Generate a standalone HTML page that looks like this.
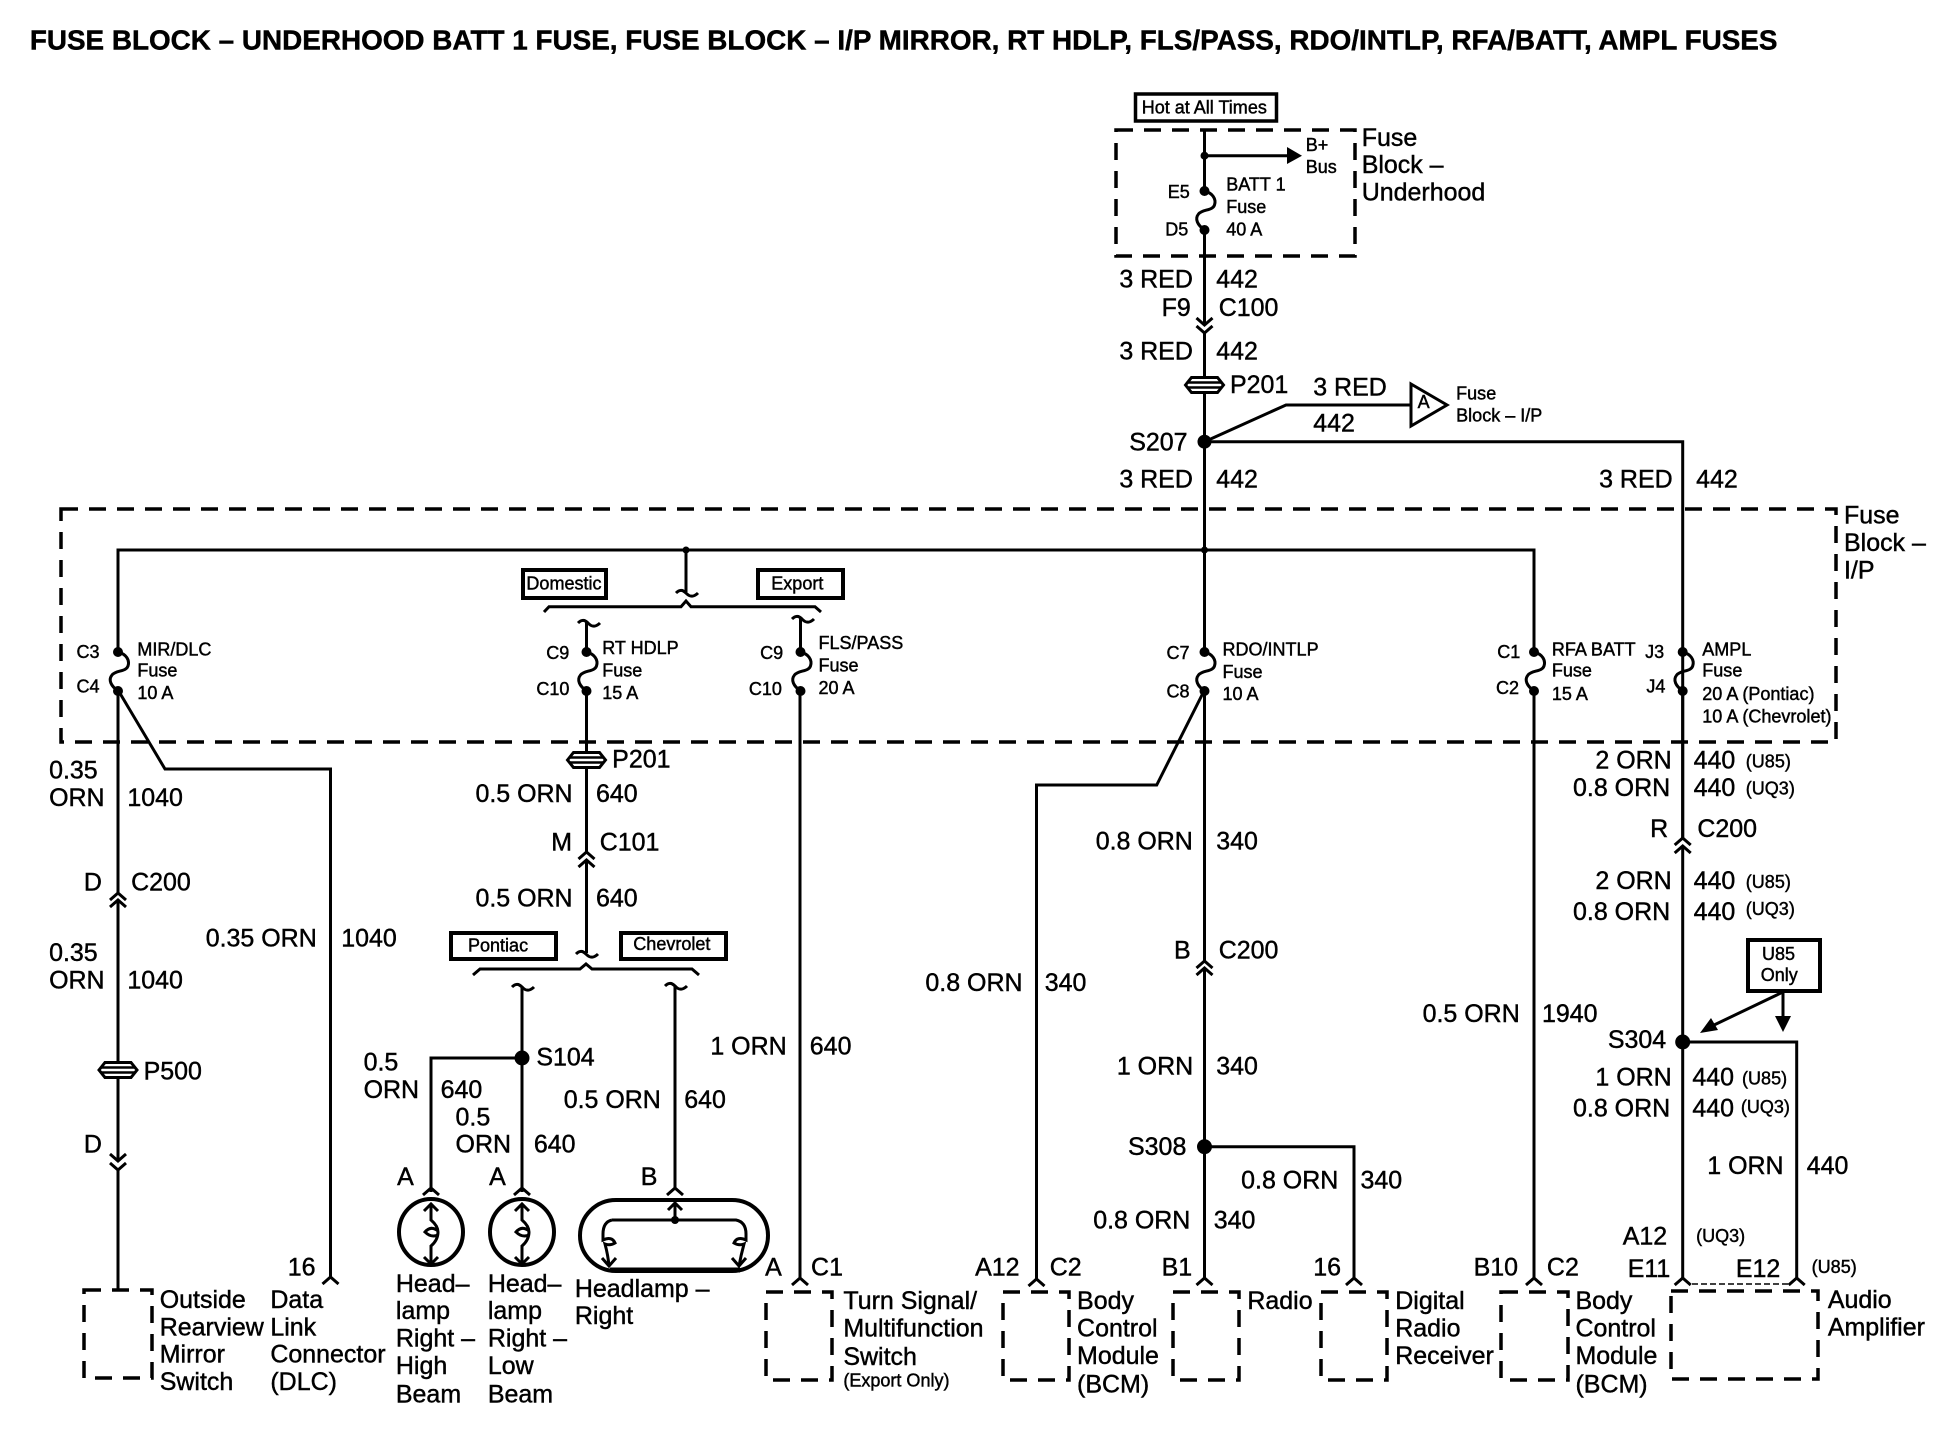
<!DOCTYPE html>
<html><head><meta charset="utf-8"><title>Fuse Block Diagram</title>
<style>
html,body{margin:0;padding:0;background:#fff}
svg{display:block}
.w{fill:none;stroke:#000;stroke-width:3}
.d{fill:none;stroke:#000;stroke-width:3.5;stroke-dasharray:17 11}
.b{fill:#fff;stroke:#000;stroke-width:4}
text{font-family:"Liberation Sans",sans-serif;fill:#000;stroke:#000;stroke-width:.35}
.l text,text.l{font-size:20.1px}
.s text,text.s{font-size:14.5px}
</style></head><body>
<svg xmlns="http://www.w3.org/2000/svg" width="1948" height="1440" viewBox="0 0 1948 1440">
<defs>
<g id="fuse"><path d="M0,0c8,2 12,8 10,14c-2,6 -12,4 -16,9c-4,5 -1,11 6,16" fill="none" stroke="#000" stroke-width="3"/><circle cx="0" cy="0" r="5"/><circle cx="0" cy="39" r="5"/></g>
<path id="cu" d="M-8,7L0,0L8,7" fill="none" stroke="#000" stroke-width="3"/>
<path id="cd" d="M-8,-7L0,0L8,-7" fill="none" stroke="#000" stroke-width="3"/>
<g id="pc"><path d="M-19,0L-13,-7.5H13L19,0L13,7.5H-13Z" fill="#fff" stroke="#000" stroke-width="3"/><path d="M-17,-2.5H17M-17,2.5H17" stroke="#000" stroke-width="2.5"/></g>
<path id="tl" d="M-10,1c5,-5 8,-2 11,1c3,3 7,3 11,-1" fill="none" stroke="#000" stroke-width="3"/>
<g id="lamp"><path d="M0,1205V1220Q7,1226 7,1232Q7,1240 0,1246V1262" fill="none" stroke="#000" stroke-width="3"/><path d="M7,1231Q0,1225 -6,1232Q0,1238 7,1235" fill="none" stroke="#000" stroke-width="3"/><path d="M-7,1211L0,1204L7,1211M-7,1257L0,1264L7,1257" fill="none" stroke="#000" stroke-width="3"/></g>
</defs>
<rect width="1948" height="1440" fill="#fff"/>

<!-- dashed boxes -->
<rect class="d" x="1116" y="130" width="239" height="126"/>
<rect class="d" x="61" y="509" width="1775" height="233"/>
<rect class="d" x="84" y="1290" width="68" height="88"/>
<rect class="d" x="766" y="1292" width="66" height="88"/>
<rect class="d" x="1003" y="1292" width="66" height="88"/>
<rect class="d" x="1173" y="1292" width="66" height="88"/>
<rect class="d" x="1321" y="1292" width="66" height="88"/>
<rect class="d" x="1501" y="1292" width="67" height="88"/>
<rect class="d" x="1671" y="1291" width="147" height="88"/>

<!-- label boxes -->
<rect x="1135.5" y="94" width="141" height="27" fill="#fff" stroke="#000" stroke-width="3.5"/>
<rect class="b" x="523" y="570" width="83" height="28"/>
<rect class="b" x="758" y="570" width="85" height="28"/>
<rect class="b" x="451" y="933" width="105" height="26"/>
<rect class="b" x="621" y="933" width="105" height="26"/>
<rect class="b" x="1748" y="940" width="72" height="51"/>

<!-- main feed -->
<path class="w" d="M1204.5,130V191M1204.5,230V325M1204.5,333V441.7"/>
<circle cx="1204.5" cy="155.7" r="4"/>
<path class="w" d="M1204.5,155.7H1290"/>
<path d="M1287,147L1302,155.7L1287,164Z"/>
<use href="#fuse" x="1204.5" y="191"/>
<use href="#cd" x="1204.5" y="325"/>
<use href="#cd" x="1204.5" y="333"/>
<use href="#pc" x="1204.5" y="385"/>
<circle cx="1204.5" cy="441.7" r="7"/>
<path class="w" d="M1204.5,441.7L1286,405H1410"/>
<path d="M1411,384L1447,405L1411,426Z" fill="#fff" stroke="#000" stroke-width="3"/>
<path class="w" d="M1204.5,441.7H1682.7V838M1682.7,846V1278"/>
<path class="w" d="M1204.5,441.7V652"/>

<!-- bus -->
<path class="w" d="M118,652V550H1534V652"/>
<circle cx="1204.5" cy="550" r="3.5"/>
<circle cx="686" cy="550" r="3.5"/>
<path class="w" d="M686,550V592"/>
<use href="#tl" x="686" y="592"/>
<path class="w" d="M544,612L549,606.7H681L686,601L691,606.7H815L821,612"/>

<!-- fuses -->
<use href="#fuse" x="118" y="652"/>
<use href="#fuse" x="586.5" y="652"/>
<use href="#fuse" x="800.5" y="652"/>
<use href="#fuse" x="1204.5" y="652"/>
<use href="#fuse" x="1534" y="652"/>
<use href="#fuse" x="1682.7" y="652"/>

<!-- left MIR -->
<path class="w" d="M118,690V893M118,900V1161M118,1170V1290"/>
<use href="#cu" x="118" y="893"/><use href="#cu" x="118" y="900"/>
<use href="#pc" x="118" y="1070"/>
<use href="#cd" x="118" y="1161"/><use href="#cd" x="118" y="1170"/>
<path class="w" d="M118,690L165,769H330.5V1278"/>
<use href="#cu" x="330.5" y="1277"/>

<!-- RT HDLP -->
<path class="w" d="M586.5,622V652M586.5,690V852M586.5,860V953"/>
<use href="#tl" x="588" y="622"/>
<use href="#pc" x="586.5" y="760"/>
<use href="#cu" x="586.5" y="852"/><use href="#cu" x="586.5" y="860"/>
<use href="#tl" x="586" y="953"/>
<path class="w" d="M473,975L480,969H580L586,964L592,969H692L699,975"/>
<use href="#tl" x="522" y="986"/>
<use href="#tl" x="675" y="985"/>
<path class="w" d="M522,986V1192M431,1192V1058H522"/>
<circle cx="522" cy="1058" r="7.5"/>
<path class="w" d="M675,985V1190"/>
<use href="#cu" x="431" y="1188"/><use href="#cu" x="522" y="1188"/><use href="#cu" x="675" y="1188"/>
<ellipse cx="431" cy="1232" rx="32" ry="33" fill="none" stroke="#000" stroke-width="4"/>
<ellipse cx="522" cy="1232" rx="32" ry="33" fill="none" stroke="#000" stroke-width="4"/>
<use href="#lamp" x="431" y="0"/>
<use href="#lamp" x="522" y="0"/>
<rect x="580" y="1200" width="188" height="71" rx="36" ry="36" fill="none" stroke="#000" stroke-width="4"/>
<path d="M610,1270H740" stroke="#000" stroke-width="5"/>
<path class="w" d="M675,1205V1220M612,1220H736Q746,1222 746,1234V1240Q737,1236 734,1243Q739,1246 744,1244Q741,1255 739,1266M612,1220Q603,1222 603,1234V1240Q612,1236 615,1243Q610,1246 605,1244Q608,1255 609,1266"/>
<path class="w" d="M668,1210L675,1203L682,1210M602,1258L609,1266L616,1258M732,1258L739,1266L746,1258"/>
<circle cx="675" cy="1220" r="4"/>

<!-- FLS -->
<use href="#tl" x="802" y="618"/>
<path class="w" d="M800.5,618V652M800,690V1278"/>
<use href="#cu" x="800" y="1278"/>

<!-- RDO -->
<path class="w" d="M1204.5,690V961M1204.5,968V1278"/>
<use href="#cu" x="1204.5" y="961"/><use href="#cu" x="1204.5" y="968"/>
<path class="w" d="M1204.5,690L1156.7,785H1036.5V1279"/>
<use href="#cu" x="1036.5" y="1279"/><use href="#cu" x="1204.5" y="1278"/>
<circle cx="1204.5" cy="1146.7" r="7.5"/>
<path class="w" d="M1204.5,1146.7H1354V1278"/>
<use href="#cu" x="1354" y="1278"/>

<!-- RFA -->
<path class="w" d="M1534,690V1278"/>
<use href="#cu" x="1534" y="1278"/>

<!-- AMPL -->
<path class="w" d="M1682.7,690V838"/>
<use href="#cu" x="1682.7" y="838"/><use href="#cu" x="1682.7" y="846"/>
<circle cx="1682.7" cy="1042" r="7.5"/>
<path class="w" d="M1682.7,1042H1796.7V1278"/>
<use href="#cu" x="1682.7" y="1278"/><use href="#cu" x="1796.7" y="1278"/>
<path d="M1692,1284H1788" fill="none" stroke="#000" stroke-width="1.5" stroke-dasharray="6 3"/>
<path class="w" d="M1783,992V1018M1783,992L1712,1026"/>
<path d="M1775,1016H1791L1783,1032Z"/>
<path d="M1700,1033L1711,1018L1718,1030Z"/>

<g transform="scale(1.243)">
<text x="24" y="40" font-size="22" font-weight="bold" textLength="1406" lengthAdjust="spacingAndGlyphs">FUSE BLOCK – UNDERHOOD BATT 1 FUSE, FUSE BLOCK – I/P MIRROR, RT HDLP, FLS/PASS, RDO/INTLP, RFA/BATT, AMPL FUSES</text>

<g transform="translate(-0.5,-0.7)">
<g class="l">
<text x="1096" y="118">Fuse</text><text x="1096" y="140">Block –</text><text x="1096" y="162">Underhood</text>
<text x="901" y="232">3 RED</text><text x="979" y="232">442</text>
<text x="935" y="255">F9</text><text x="981" y="255">C100</text>
<text x="901" y="290">3 RED</text><text x="979" y="290">442</text>
<text x="990" y="317">P201</text>
<text x="1057" y="319">3 RED</text><text x="1057" y="348">442</text>
<text x="909" y="363">S207</text>
<text x="901" y="393">3 RED</text><text x="979" y="393">442</text>
<text x="1287" y="393">3 RED</text><text x="1365" y="393">442</text>
<text x="1484" y="422">Fuse</text><text x="1484" y="444">Block –</text><text x="1484" y="466">I/P</text>

<text x="40" y="627">0.35</text><text x="40" y="649">ORN</text><text x="103" y="649">1040</text>
<text x="68" y="717">D</text><text x="106" y="717">C200</text>
<text x="40" y="774">0.35</text><text x="40" y="796">ORN</text><text x="103" y="796">1040</text>
<text x="116" y="869">P500</text><text x="68" y="928">D</text>
<text x="166" y="762">0.35 ORN</text><text x="275" y="762">1040</text>

<text x="493" y="618">P201</text>
<text x="383" y="646">0.5 ORN</text><text x="480" y="646">640</text>
<text x="444" y="685">M</text><text x="483" y="685">C101</text>
<text x="383" y="730">0.5 ORN</text><text x="480" y="730">640</text>
<text x="432" y="858">S104</text>
<text x="293" y="862">0.5</text><text x="293" y="884">ORN</text><text x="355" y="884">640</text>
<text x="367" y="906">0.5</text><text x="367" y="928">ORN</text><text x="430" y="928">640</text>
<text x="454" y="892">0.5 ORN</text><text x="551" y="892">640</text>
<text x="320" y="954">A</text><text x="394" y="954">A</text><text x="516" y="954">B</text>

<text x="572" y="849">1 ORN</text><text x="652" y="849">640</text>
<text x="616" y="1027">A</text><text x="653" y="1027">C1</text>
<text x="745" y="798">0.8 ORN</text><text x="841" y="798">340</text>
<text x="785" y="1027">A12</text><text x="845" y="1027">C2</text>

<text x="882" y="684">0.8 ORN</text><text x="979" y="684">340</text>
<text x="945" y="772">B</text><text x="981" y="772">C200</text>
<text x="899" y="865">1 ORN</text><text x="979" y="865">340</text>
<text x="908" y="930">S308</text>
<text x="999" y="957">0.8 ORN</text><text x="1095" y="957">340</text>
<text x="880" y="989">0.8 ORN</text><text x="977" y="989">340</text>
<text x="935" y="1027">B1</text><text x="1057" y="1027">16</text>

<text x="1145" y="823">0.5 ORN</text><text x="1241" y="823">1940</text>
<text x="1186" y="1027">B10</text><text x="1245" y="1027">C2</text>

<text x="1284" y="619">2 ORN</text><text x="1363" y="619">440</text>
<text x="1266" y="641">0.8 ORN</text><text x="1363" y="641">440</text>
<text x="1328" y="674">R</text><text x="1366" y="674">C200</text>
<text x="1284" y="716">2 ORN</text><text x="1363" y="716">440</text>
<text x="1266" y="741">0.8 ORN</text><text x="1363" y="741">440</text>
<text x="1294" y="844">S304</text>
<text x="1284" y="874">1 ORN</text><text x="1362" y="874">440</text>
<text x="1266" y="899">0.8 ORN</text><text x="1362" y="899">440</text>
<text x="1374" y="945">1 ORN</text><text x="1454" y="945">440</text>
<text x="1306" y="1002">A12</text>
<text x="1310" y="1028">E11</text><text x="1397" y="1028">E12</text>

<text x="129" y="1053">Outside</text><text x="129" y="1075">Rearview</text><text x="129" y="1097">Mirror</text><text x="129" y="1119">Switch</text>
<text x="232" y="1027">16</text>
<text x="218" y="1053">Data</text><text x="218" y="1075">Link</text><text x="218" y="1097">Connector</text><text x="218" y="1119">(DLC)</text>
<text x="319" y="1040">Head–</text><text x="319" y="1062">lamp</text><text x="319" y="1084">Right –</text><text x="319" y="1106">High</text><text x="319" y="1129">Beam</text>
<text x="393" y="1040">Head–</text><text x="393" y="1062">lamp</text><text x="393" y="1084">Right –</text><text x="393" y="1106">Low</text><text x="393" y="1129">Beam</text>
<text x="463" y="1044">Headlamp –</text><text x="463" y="1066">Right</text>
<text x="679" y="1054">Turn Signal/</text><text x="679" y="1076">Multifunction</text><text x="679" y="1099">Switch</text>
<text x="867" y="1054">Body</text><text x="867" y="1076">Control</text><text x="867" y="1098">Module</text><text x="867" y="1121">(BCM)</text>
<text x="1004" y="1054">Radio</text>
<text x="1123" y="1054">Digital</text><text x="1123" y="1076">Radio</text><text x="1123" y="1098">Receiver</text>
<text x="1268" y="1054">Body</text><text x="1268" y="1076">Control</text><text x="1268" y="1098">Module</text><text x="1268" y="1121">(BCM)</text>
<text x="1471" y="1053">Audio</text><text x="1471" y="1075">Amplifier</text>
</g>

<g class="s">
<text x="919" y="92">Hot at All Times</text>
<text x="1051" y="122">B+</text><text x="1051" y="140">Bus</text>
<text x="940" y="160">E5</text><text x="938" y="190">D5</text>
<text x="987" y="154">BATT 1</text><text x="987" y="172">Fuse</text><text x="987" y="190">40 A</text>
<text x="1172" y="322">Fuse</text><text x="1172" y="340">Block – I/P</text>
<text x="1141" y="329">A</text>
<text x="424" y="475">Domestic</text><text x="621" y="475">Export</text>
<text x="62" y="530">C3</text><text x="62" y="558">C4</text>
<text x="111" y="528">MIR/DLC</text><text x="111" y="545">Fuse</text><text x="111" y="563">10 A</text>
<text x="440" y="531">C9</text><text x="432" y="560">C10</text>
<text x="485" y="527">RT HDLP</text><text x="485" y="545">Fuse</text><text x="485" y="563">15 A</text>
<text x="612" y="531">C9</text><text x="603" y="560">C10</text>
<text x="659" y="523">FLS/PASS</text><text x="659" y="541">Fuse</text><text x="659" y="559">20 A</text>
<text x="939" y="531">C7</text><text x="939" y="562">C8</text>
<text x="984" y="528">RDO/INTLP</text><text x="984" y="546">Fuse</text><text x="984" y="564">10 A</text>
<text x="1205" y="530">C1</text><text x="1204" y="559">C2</text>
<text x="1249" y="528">RFA BATT</text><text x="1249" y="545">Fuse</text><text x="1249" y="564">15 A</text>
<text x="1324" y="530">J3</text><text x="1325" y="558">J4</text>
<text x="1370" y="528">AMPL</text><text x="1370" y="545">Fuse</text><text x="1370" y="564">20 A (Pontiac)</text><text x="1370" y="582">10 A (Chevrolet)</text>
<text x="377" y="766">Pontiac</text><text x="510" y="765">Chevrolet</text>
<text x="1418" y="773">U85</text><text x="1417" y="790">Only</text>
<text x="679" y="1116">(Export Only)</text>
<text x="1405" y="618">(U85)</text><text x="1405" y="640">(UQ3)</text>
<text x="1405" y="715">(U85)</text><text x="1405" y="737">(UQ3)</text>
<text x="1402" y="873">(U85)</text><text x="1401" y="896">(UQ3)</text>
<text x="1365" y="1000">(UQ3)</text><text x="1458" y="1025">(U85)</text>
</g>
</g>
</g>
</svg>
</body></html>
